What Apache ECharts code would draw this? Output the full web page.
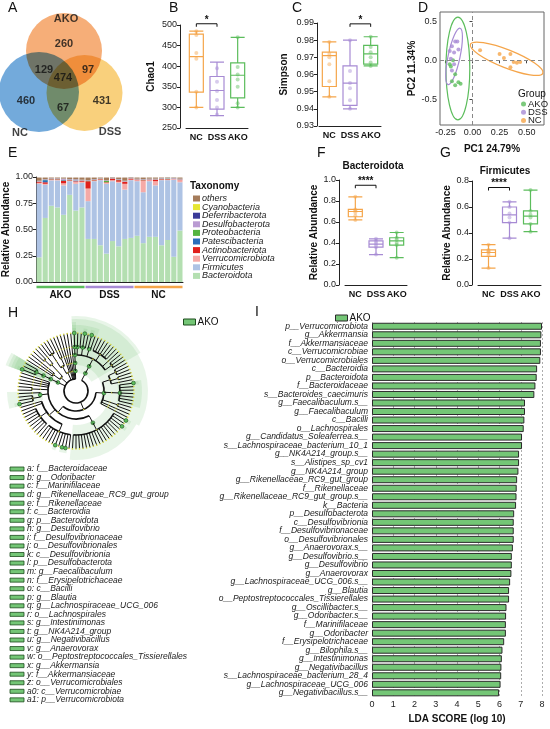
<!DOCTYPE html>
<html>
<head>
<meta charset="UTF-8">
<title></title>
<script src="https://cdn.jsdelivr.net/npm/echarts@6/dist/echarts.min.js"></script>
<style>
html, body { margin: 0; padding: 0; background: #fff; }
#fig { width: 550px; height: 729px; }
</style>
</head>
<body>
<div id="fig"></div>
<script>
// ---- data ----
var groupNames = ['NC', 'DSS', 'AKO'];
var groupColors = ['#f5a54a', '#a78bd4', '#5cbd5c'];

// A: venn
var vennCircles = [[64, 51, 76], [39, 92, 80], [84.5, 93, 76]];   // AKO, NC, DSS (cx, cy, diameter)
var vennColors = ['#f5a060', '#5b9bd5', '#f8c865'];
var vennCounts = [[64, 44, 260], [44, 70, 129], [63, 78, 474], [88, 70, 97], [26, 101, 460], [63, 108, 67], [102, 101, 431]];
var vennNames = [[66, 19], [20, 133], [110, 132]];
var vennLabels = ['AKO', 'NC', 'DSS'];

// B, C, F, G: box plots [min, Q1, median, Q3, max]
var chao1Box = [[300, 337, 423, 478, 485], [280, 296, 341, 375, 410], [300, 323, 378, 408, 470]];
var chao1Points = [[300, 338, 418, 432, 476, 485], [283, 300, 318, 340, 362, 395], [300, 310, 350, 368, 380, 398, 470]];
var simpsonBox = [[0.947, 0.953, 0.971, 0.973, 0.979], [0.940, 0.942, 0.955, 0.965, 0.980], [0.965, 0.966, 0.972, 0.977, 0.982]];
var simpsonPoints = [[0.947, 0.956, 0.966, 0.970, 0.972, 0.979], [0.940, 0.945, 0.952, 0.955, 0.962, 0.980], [0.965, 0.967, 0.970, 0.973, 0.976, 0.982]];
var bacteroidotaBox = [[0.62, 0.65, 0.70, 0.72, 0.84], [0.29, 0.36, 0.39, 0.42, 0.44], [0.26, 0.38, 0.42, 0.45, 0.50]];
var bacteroidotaPoints = [[0.62, 0.66, 0.69, 0.71, 0.72, 0.84], [0.29, 0.36, 0.38, 0.40, 0.42, 0.44], [0.26, 0.38, 0.40, 0.43, 0.45, 0.50]];
var firmicutesBox = [[0.13, 0.22, 0.25, 0.27, 0.31], [0.36, 0.48, 0.54, 0.60, 0.64], [0.41, 0.47, 0.53, 0.57, 0.73]];
var firmicutesPoints = [[0.13, 0.23, 0.25, 0.26, 0.27, 0.31], [0.36, 0.48, 0.52, 0.55, 0.60, 0.64], [0.41, 0.47, 0.52, 0.54, 0.57, 0.73]];
// significance brackets [from, to, y, stars]
var chao1Sig = [0, 1, 503, '*'];
var simpsonSig = [1, 2, 0.9895, '*'];
var bacteroidotaSig = [0, 1, 0.95, '****'];
var firmicutesSig = [0, 1, 0.75, '****'];

// D: PCoA
var pcoaAKO = [[-0.20, -0.08], [-0.16, -0.18], [-0.19, -0.27], [-0.13, -0.28], [-0.16, -0.32], [-0.11, -0.30], [-0.18, 0.0], [-0.21, -0.05]];
var pcoaDSS = [[-0.16, 0.24], [-0.14, 0.24], [-0.19, 0.18], [-0.21, 0.12], [-0.17, 0.10], [-0.13, 0.14], [-0.20, 0.02], [-0.17, -0.05], [-0.19, -0.13]];
var pcoaNC = [[0.07, 0.13], [0.25, 0.08], [0.35, 0.08], [0.29, 0.03], [0.38, -0.02], [0.35, -0.09], [0.41, -0.03], [0.44, -0.02]];
// ellipses [cx, cy, semi-axis x, semi-axis y, rotation deg]
var ellipseAKO = [-0.135, -0.105, 0.11, 0.66, 0];
var ellipseDSS = [-0.17, 0.05, 0.055, 0.37, -12];
var ellipseNC = [0.315, 0.02, 0.36, 0.115, -21.7];
var pcTicksX = [-0.25, 0, 0.25, 0.5];
var pcTicksY = [-0.5, 0, 0.5];

// E: stacked relative abundance, 24 samples
var sampleIds = ['A1','A2','A3','A4','A5','A6','A7','A8','D1','D2','D3','D4','D5','D6','D7','D8','N1','N2','N3','N4','N5','N6','N7','N8'];
var sampleGroups = [[0, 7, 2], [8, 15, 1], [16, 23, 0]];
var taxaNames = ['Bacteroidota', 'Firmicutes', 'Verrucomicrobiota', 'Actinobacteriota', 'Patescibacteria', 'Proteobacteria', 'Desulfobacterota', 'Deferribacterota', 'Cyanobacteria', 'others'];
var taxaColors = ['#b4dfb1', '#aec3e4', '#f5aaa7', '#e0201c', '#2a6ebb', '#55b440', '#b99bd2', '#3b3b98', '#e6e632', '#a57c5b'];
var bacteroidota = [0.235, 0.61, 0.726, 0.71, 0.64, 0.83, 0.68, 0.71, 0.41, 0.41, 0.35, 0.27, 0.39, 0.34, 0.41, 0.42, 0.44, 0.37, 0.43, 0.43, 0.35, 0.40, 0.24, 0.49];
var firmicutes = [0.70, 0.315, 0.242, 0.258, 0.28, 0.13, 0.255, 0.235, 0.36, 0.55, 0.62, 0.665, 0.57, 0.605, 0.47, 0.55, 0.52, 0.485, 0.53, 0.49, 0.62, 0.57, 0.735, 0.46];
var verrucomicrobiota = [0.01, 0.01, 0.005, 0.005, 0.02, 0.005, 0.02, 0.01, 0.12, 0.005, 0.005, 0.01, 0.01, 0.01, 0.055, 0.005, 0.01, 0.11, 0.01, 0.04, 0.005, 0.005, 0.005, 0.02];
var actinobacteriota = [0.01, 0.015, 0.005, 0.005, 0.025, 0.005, 0.005, 0.01, 0.07, 0.005, 0.005, 0.005, 0.015, 0.015, 0.02, 0.01, 0.005, 0.005, 0.005, 0.015, 0.005, 0.005, 0.003, 0.005];
var patescibacteria = [0, 0.02, 0, 0, 0.005, 0, 0.005, 0, 0, 0, 0, 0, 0, 0, 0, 0, 0, 0, 0, 0, 0, 0, 0, 0];
var proteobacteria = [0.002, 0.002, 0.002, 0.002, 0.003, 0.002, 0.002, 0.002, 0.002, 0.002, 0.002, 0.012, 0.002, 0.002, 0.002, 0.002, 0.002, 0.002, 0.002, 0.002, 0.002, 0.006, 0.002, 0.002];
var desulfobacterota = [0.005, 0.005, 0.005, 0.005, 0.01, 0.005, 0.01, 0.005, 0.005, 0.005, 0.003, 0.005, 0.005, 0.005, 0.005, 0.005, 0.005, 0.005, 0.005, 0.005, 0.005, 0.005, 0.005, 0.005];
var deferribacterota = [0.002, 0.002, 0.002, 0.002, 0.002, 0.002, 0.002, 0.002, 0.002, 0.002, 0.002, 0.002, 0.002, 0.002, 0.002, 0.002, 0.002, 0.002, 0.002, 0.002, 0.002, 0.002, 0.002, 0.002];
var cyanobacteria = [0.001, 0.001, 0.001, 0.001, 0.001, 0.001, 0.001, 0.001, 0.001, 0.001, 0.001, 0.001, 0.001, 0.001, 0.001, 0.001, 0.001, 0.001, 0.001, 0.001, 0.001, 0.001, 0.001, 0.001];
var others = [0.03, 0.015, 0.007, 0.007, 0.009, 0.015, 0.015, 0.02, 0.025, 0.015, 0.007, 0.025, 0.003, 0.015, 0.03, 0.003, 0.01, 0.015, 0.01, 0.01, 0.005, 0.003, 0.003, 0.01];
var taxaValues = [bacteroidota, firmicutes, verrucomicrobiota, actinobacteriota, patescibacteria, proteobacteria, desulfobacterota, deferribacterota, cyanobacteria, others];

// H: cladogram lineages (phylum|class|order|family|genera)
var cladeLineages = [
  'Bacteroidota|Bacteroidia|Bacteroidales|Bacteroidaceae|Bacteroides',
  'Bacteroidota|Bacteroidia|Bacteroidales|Rikenellaceae|Alistipes,Rikenellaceae_RC9_gut_group,Rikenella',
  'Bacteroidota|Bacteroidia|Bacteroidales|Marinifilaceae|Odoribacter,Butyricimonas',
  'Bacteroidota|Bacteroidia|Bacteroidales|Muribaculaceae|Muribaculum,Duncaniella,Paramuribaculum,Sodaliphilus,CAG_485,CAG_873,Muribaculaceae_g',
  'Bacteroidota|Bacteroidia|Bacteroidales|Tannerellaceae|Parabacteroides',
  'Bacteroidota|Bacteroidia|Bacteroidales|Prevotellaceae|Alloprevotella,Prevotellaceae_UCG_001,Prevotellaceae_NK3B31_group',
  'Firmicutes|Bacilli|Lactobacillales|Lactobacillaceae|Lactobacillus,Ligilactobacillus,Limosilactobacillus',
  'Firmicutes|Bacilli|Lactobacillales|Streptococcaceae|Streptococcus,Lactococcus',
  'Firmicutes|Bacilli|Lactobacillales|Enterococcaceae|Enterococcus',
  'Firmicutes|Bacilli|Erysipelotrichales|Erysipelotrichaceae|Faecalibaculum,Dubosiella,Turicibacter,Allobaculum,Ileibacterium,Erysipelatoclostridium,Candidatus_Stoquefichus',
  'Firmicutes|Bacilli|Staphylococcales|Staphylococcaceae|Staphylococcus,Jeotgalicoccus',
  'Firmicutes|Bacilli|Bacillales|Bacillaceae|Bacillus',
  'Firmicutes|Bacilli|RF39|RF39_f|RF39_g',
  'Firmicutes|Clostridia|Lachnospirales|Lachnospiraceae|Blautia,Roseburia,Lachnospiraceae_UCG_006,Lachnoclostridium,Dorea,Tuzzerella,Marvinbryantia,Acetatifactor,ASF356,Lachnospiraceae_NK4A136_group,Eubacterium_xylanophilum_group,Lachnospiraceae_UCG_010,Lachnospiraceae_FCS020_group,GCA_900066575,Coprococcus,Anaerostipes,Fusicatenibacter,Lachnospiraceae_A2,Eisenbergiella',
  'Firmicutes|Clostridia|Oscillospirales|Oscillospiraceae|Oscillibacter,Intestinimonas,NK4A214_group,Colidextribacter,Negativibacillus,Flavonifractor,Oscillospiraceae_UCG_005,Oscillospiraceae_UCG_003,UCG_002,UCG_007',
  'Firmicutes|Clostridia|Oscillospirales|Ruminococcaceae|Ruminococcus,Anaerotruncus,Harryflintia,Candidatus_Soleaferrea,Angelakisella,UBA1819,Paludicola,Ruminiclostridium',
  'Firmicutes|Clostridia|Oscillospirales|Butyricicoccaceae|Butyricicoccus',
  'Firmicutes|Clostridia|Oscillospirales|UCG_010|UCG_010_g',
  'Firmicutes|Clostridia|Peptostreptococcales_Tissierellales|Anaerovoraceae|Anaerovorax,Family_XIII_AD3011_group,Family_XIII_UCG_001',
  'Firmicutes|Clostridia|Peptostreptococcales_Tissierellales|Peptostreptococcaceae|Romboutsia',
  'Firmicutes|Clostridia|Clostridiales|Clostridiaceae|Clostridium_sensu_stricto_1,Candidatus_Arthromitus',
  'Firmicutes|Clostridia|Christensenellales|Christensenellaceae|Christensenellaceae_R_7_group',
  'Firmicutes|Clostridia|Clostridia_UCG_014|Clostridia_UCG_014_f|Clostridia_UCG_014_g',
  'Firmicutes|Clostridia|Monoglobales|Monoglobaceae|Monoglobus',
  'Firmicutes|Clostridia|Peptococcales|Peptococcaceae|Peptococcus',
  'Desulfobacterota|Desulfovibrionia|Desulfovibrionales|Desulfovibrionaceae|Desulfovibrio,Bilophila,Mailhella',
  'Actinobacteriota|Actinobacteria|Bifidobacteriales|Bifidobacteriaceae|Bifidobacterium',
  'Actinobacteriota|Actinobacteria|Corynebacteriales|Corynebacteriaceae|Corynebacterium',
  'Actinobacteriota|Actinobacteria|Micrococcales|Micrococcaceae|Rothia',
  'Actinobacteriota|Coriobacteriia|Coriobacteriales|Eggerthellaceae|Enterorhabdus,Adlercreutzia',
  'Actinobacteriota|Coriobacteriia|Coriobacteriales|Atopobiaceae|Coriobacteriaceae_UCG_002',
  'Proteobacteria|Gammaproteobacteria|Enterobacterales|Enterobacteriaceae|Escherichia_Shigella,Klebsiella,Proteus',
  'Proteobacteria|Gammaproteobacteria|Burkholderiales|Sutterellaceae|Parasutterella',
  'Proteobacteria|Gammaproteobacteria|Burkholderiales|Oxalobacteraceae|Massilia',
  'Proteobacteria|Alphaproteobacteria|Rhodospirillales|Rhodospirillales_f|Rhodospirillales_g',
  'Patescibacteria|Saccharimonadia|Saccharimonadales|Saccharimonadaceae|Candidatus_Saccharimonas',
  'Deferribacterota|Deferribacteres|Deferribacterales|Deferribacteraceae|Mucispirillum',
  'Campilobacterota|Campylobacteria|Campylobacterales|Helicobacteraceae|Helicobacter',
  'Cyanobacteria|Vampirivibrionia|Gastranaerophilales|Gastranaerophilales_f|Gastranaerophilales_g',
  'Verrucomicrobiota|Verrucomicrobiae|Verrucomicrobiales|Akkermansiaceae|Akkermansia'
];
var cladeRadius = [12, 20, 28, 36, 44, 58];
var cladeKeys = ['a','b','c','d','e','f','g','h','i','j','k','l','m','n','o','p','q','r','s','t','u','v','w','x','y','z','a0','a1'];
var cladeMarkers = ['f__Bacteroidaceae','g__Odoribacter','f__Marinifilaceae','g__Rikenellaceae_RC9_gut_group','f__Rikenellaceae','c__Bacteroidia','p__Bacteroidota','g__Desulfovibrio','f__Desulfovibrionaceae','o__Desulfovibrionales','c__Desulfovibrionia','p__Desulfobacterota','g__Faecalibaculum','f__Erysipelotrichaceae','c__Bacilli','g__Blautia','g__Lachnospiraceae_UCG_006','o__Lachnospirales','g__Intestinimonas','g__NK4A214_group','g__Negativibacillus','g__Anaerovorax','o__Peptostreptococcales_Tissierellales','g__Akkermansia','f__Akkermansiaceae','o__Verrucomicrobiales','c__Verrucomicrobiae','p__Verrucomicrobiota'];

// I: LDA scores
var ldaTaxa = ['p__Verrucomicrobiota','g__Akkermansia','f__Akkermansiaceae','c__Verrucomicrobiae','o__Verrucomicrobiales','c__Bacteroidia','p__Bacteroidota','f__Bacteroidaceae','s__Bacteroides_caecimuris','g__Faecalibaculum.s__','g__Faecalibaculum','c__Bacilli','o__Lachnospirales','g__Candidatus_Soleaferrea.s__','s__Lachnospiraceae_bacterium_10_1','g__NK4A214_group.s__','s__Alistipes_sp_cv1','g__NK4A214_group','g__Rikenellaceae_RC9_gut_group','f__Rikenellaceae','g__Rikenellaceae_RC9_gut_group.s__','k__Bacteria','p__Desulfobacterota','c__Desulfovibrionia','f__Desulfovibrionaceae','o__Desulfovibrionales','g__Anaerovorax.s__','g__Desulfovibrio.s__','g__Desulfovibrio','g__Anaerovorax','g__Lachnospiraceae_UCG_006.s__','g__Blautia','o__Peptostreptococcales_Tissierellales','g__Oscillibacter.s__','g__Odoribacter.s__','f__Marinifilaceae','g__Odoribacter','f__Erysipelotrichaceae','g__Bilophila.s__','g__Intestinimonas','g__Negativibacillus','s__Lachnospiraceae_bacterium_28_4','g__Lachnospiraceae_UCG_006','g__Negativibacillus.s__'];
var ldaScores = [8.0, 7.97, 7.95, 7.95, 7.92, 7.77, 7.75, 7.69, 7.64, 7.2, 7.2, 7.17, 7.14, 7.06, 7.06, 6.92, 6.92, 6.89, 6.83, 6.81, 6.8, 6.78, 6.69, 6.67, 6.67, 6.67, 6.63, 6.58, 6.58, 6.56, 6.5, 6.45, 6.45, 6.33, 6.31, 6.3, 6.3, 6.22, 6.14, 6.11, 6.09, 6.08, 6.05, 5.98];

var FONT = 'Liberation Sans, Arial, sans-serif';
var barGreen = '#74c676';

// ---- cladogram layout ----
var cladeRoot = { name: 'Bacteria', depth: 0, children: [] };
function childOf(node, name) {
  for (var i = 0; i < node.children.length; i++) {
    if (node.children[i].name === name) return node.children[i];
  }
  var c = { name: name, depth: node.depth + 1, children: [] };
  node.children.push(c);
  return c;
}
cladeLineages.forEach(function (line) {
  var parts = line.split('|');
  var node = cladeRoot;
  parts.slice(0, -1).forEach(function (nm) { node = childOf(node, nm); });
  parts[parts.length - 1].split(',').forEach(function (nm) { childOf(node, nm); });
});
function countLeaves(n) {
  if (!n.children.length) return 1;
  return n.children.reduce(function (s, c) { return s + countLeaves(c); }, 0);
}
var leafTotal = countLeaves(cladeRoot);
var leafStep = 360 / leafTotal;
var leafIdx = 0;
function place(n) {
  if (!n.children.length) {
    n.angle = (leafIdx + 0.5) * leafStep;
    n.lo = n.hi = n.angle;
    leafIdx++;
    return;
  }
  n.children.forEach(place);
  var first = n.children[0], last = n.children[n.children.length - 1];
  n.angle = (first.angle + last.angle) / 2;
  n.lo = first.lo;
  n.hi = last.hi;
}
place(cladeRoot);
var markerSet = {};
cladeMarkers.forEach(function (m) { markerSet[m.slice(3)] = true; });
var cladeNodes = [], cladeSectors = [];
function collect(n, parentR) {
  var r = cladeRadius[n.depth];
  var hl = n.depth > 0 && markerSet[n.name] ? 1 : 0;
  var a0 = n.children.length ? n.children[0].angle : n.angle;
  var a1 = n.children.length ? n.children[n.children.length - 1].angle : n.angle;
  cladeNodes.push([r, n.angle, parentR, a0, a1, hl, n.depth]);
  if (hl) {
    cladeSectors.push([r - 2, 60 + (6 - n.depth) * 3, n.lo - leafStep / 2, n.hi + leafStep / 2]);
  }
  n.children.forEach(function (c) { collect(c, r); });
}
collect(cladeRoot, cladeRadius[0]);

// ---- helpers ----
function boxPanel(gi, box, points, sig) {
  var pts = [];
  points.forEach(function (arr, i) { arr.forEach(function (v) { pts.push([i, v]); }); });
  return [{
    type: 'boxplot', xAxisIndex: gi, yAxisIndex: gi, silent: true, boxWidth: [14, 14],
    data: box.map(function (b, i) {
      return { value: b, itemStyle: { color: 'rgba(255,255,255,0)', borderColor: groupColors[i], borderWidth: 1.2 } };
    })
  }, {
    type: 'scatter', xAxisIndex: gi, yAxisIndex: gi, silent: true, symbolSize: 4, data: pts,
    itemStyle: { color: function (p) { return groupColors[p.value[0]]; }, opacity: 0.45 }
  }, {
    type: 'custom', xAxisIndex: gi, yAxisIndex: gi, silent: true, data: [sig.slice(0, 3)],
    renderItem: function (params, api) {
      var a = api.coord([api.value(0), api.value(2)]);
      var b = api.coord([api.value(1), api.value(2)]);
      return { type: 'group', children: [
        { type: 'polyline', shape: { points: [[a[0], a[1] + 3], [a[0], a[1]], [b[0], b[1]], [b[0], b[1] + 3]] },
          style: { stroke: '#111', lineWidth: 1, fill: null } },
        { type: 'text', x: (a[0] + b[0]) / 2, y: a[1] + 1,
          style: { text: sig[3], font: 'bold 10px ' + FONT, fill: '#111', align: 'center', verticalAlign: 'bottom' } }
      ] };
    }
  }];
}
function catAxis(gi) {
  return {
    gridIndex: gi, type: 'category', data: groupNames,
    axisLine: { lineStyle: { color: '#222', width: 1 } }, axisTick: { show: false },
    axisLabel: { color: '#111', fontWeight: 'bold', fontSize: 9, margin: 5, interval: 0 }
  };
}
function valAxis(gi, min, max, interval, digits, name, gap, offset) {
  return {
    gridIndex: gi, type: 'value', min: min, max: max, interval: interval, offset: offset || 0,
    name: name, nameLocation: 'middle', nameGap: gap,
    nameTextStyle: { color: '#111', fontWeight: 'bold', fontSize: 10 },
    axisLine: { show: true, lineStyle: { color: '#222', width: 1 } },
    axisTick: { show: true, length: 3, lineStyle: { color: '#222' } },
    splitLine: { show: false },
    axisLabel: { color: '#222', fontSize: 9, margin: 3, formatter: function (v) { return v.toFixed(digits); } }
  };
}
function ellipseSeries(name, e, color) {
  return {
    type: 'custom', name: name + '_ell', xAxisIndex: 3, yAxisIndex: 3, silent: true, data: [e],
    renderItem: function (params, api) {
      var c = api.coord([api.value(0), api.value(1)]);
      var s = api.size([api.value(2), api.value(3)]);
      return { type: 'ellipse', x: c[0], y: c[1], rotation: api.value(4) * Math.PI / 180,
        shape: { cx: 0, cy: 0, rx: s[0], ry: s[1] },
        style: { fill: null, stroke: color, lineWidth: 1.2 } };
    }
  };
}

// ---- series ----
var series = [];
// A
series.push({
  type: 'scatter', xAxisIndex: 0, yAxisIndex: 0, silent: true, blendMode: 'multiply',
  data: vennCircles, symbolSize: function (v) { return v[2]; },
  itemStyle: { color: function (p) { return vennColors[p.dataIndex]; }, opacity: 0.85 }
});
series.push({
  type: 'scatter', xAxisIndex: 0, yAxisIndex: 0, silent: true, symbolSize: 0, data: vennCounts,
  label: { show: true, position: 'inside', formatter: function (p) { return p.value[2]; },
    color: '#111', fontWeight: 'bold', fontSize: 11 }
});
series.push({
  type: 'scatter', xAxisIndex: 0, yAxisIndex: 0, silent: true, symbolSize: 0, data: vennNames,
  label: { show: true, position: 'inside', formatter: function (p) { return vennLabels[p.dataIndex]; },
    color: '#111', fontWeight: 'bold', fontSize: 11 }
});
// B, C, F, G
series = series.concat(boxPanel(1, chao1Box, chao1Points, chao1Sig));
series = series.concat(boxPanel(2, simpsonBox, simpsonPoints, simpsonSig));
series = series.concat(boxPanel(5, bacteroidotaBox, bacteroidotaPoints, bacteroidotaSig));
series = series.concat(boxPanel(6, firmicutesBox, firmicutesPoints, firmicutesSig));
// D
series.push({
  type: 'scatter', name: 'AKO', xAxisIndex: 3, yAxisIndex: 3, silent: true, symbolSize: 4,
  data: pcoaAKO, itemStyle: { color: groupColors[2] },
  markLine: { silent: true, symbol: 'none', label: { show: false },
    lineStyle: { color: '#888', type: [4, 3], width: 1 }, data: [{ xAxis: 0 }, { yAxis: 0 }] }
});
series.push({ type: 'scatter', name: 'DSS', xAxisIndex: 3, yAxisIndex: 3, silent: true, symbolSize: 4, data: pcoaDSS, itemStyle: { color: groupColors[1] } });
series.push({ type: 'scatter', name: 'NC', xAxisIndex: 3, yAxisIndex: 3, silent: true, symbolSize: 4, data: pcoaNC, itemStyle: { color: groupColors[0] } });
series.push(ellipseSeries('AKO', ellipseAKO, groupColors[2]));
series.push(ellipseSeries('DSS', ellipseDSS, groupColors[1]));
series.push(ellipseSeries('NC', ellipseNC, groupColors[0]));
// E
taxaNames.forEach(function (t, i) {
  series.push({
    type: 'bar', name: t, xAxisIndex: 4, yAxisIndex: 4, stack: 'tax', silent: true,
    barCategoryGap: '16%', data: taxaValues[i], itemStyle: { color: taxaColors[i] }
  });
});
series.push({
  type: 'custom', xAxisIndex: 4, yAxisIndex: 4, silent: true, data: sampleGroups,
  renderItem: function (params, api) {
    var a = api.coord([api.value(0), 0]);
    var b = api.coord([api.value(1), 0]);
    var half = api.size([1, 0])[0] * 0.42;
    var gi = api.value(2);
    return { type: 'group', children: [
      { type: 'line', shape: { x1: a[0] - half, y1: a[1] + 5, x2: b[0] + half, y2: b[1] + 5 },
        style: { stroke: groupColors[gi], lineWidth: 2.5 } },
      { type: 'text', x: (a[0] + b[0]) / 2, y: a[1] + 8,
        style: { text: groupNames[gi], font: 'bold 10px ' + FONT, fill: '#111', align: 'center', verticalAlign: 'top' } }
    ] };
  }
});
// H
series.push({
  type: 'custom', name: 'AKO_clade', coordinateSystem: 'polar', polarIndex: 0, silent: true, z: 1,
  itemStyle: { color: barGreen }, data: cladeSectors,
  renderItem: function (params, api) {
    var cs = params.coordSys;
    var p0 = api.coord([api.value(1), api.value(2)]);
    var p1 = api.coord([api.value(1), api.value(3)]);
    var q0 = api.coord([api.value(0), api.value(2)]);
    return { type: 'sector', shape: {
        cx: cs.cx, cy: cs.cy,
        r0: Math.hypot(q0[0] - cs.cx, q0[1] - cs.cy), r: Math.hypot(p0[0] - cs.cx, p0[1] - cs.cy),
        startAngle: Math.atan2(p0[1] - cs.cy, p0[0] - cs.cx), endAngle: Math.atan2(p1[1] - cs.cy, p1[0] - cs.cx),
        clockwise: true },
      style: { fill: 'rgba(110,195,110,0.16)' } };
  }
});
series.push({
  type: 'custom', coordinateSystem: 'polar', polarIndex: 0, silent: true, z: 3, data: cladeNodes,
  renderItem: function (params, api) {
    var cs = params.coordSys;
    var r = api.value(0), ang = api.value(1), rp = api.value(2), a0 = api.value(3), a1 = api.value(4), hl = api.value(5);
    var depth = api.value(6);
    var p = api.coord([r, ang]);
    var q = api.coord([rp, ang]);
    var kids = [];
    if (depth > 0) {
      kids.push({ type: 'line', shape: { x1: q[0], y1: q[1], x2: p[0], y2: p[1] }, style: { stroke: '#111', lineWidth: 1 } });
    }
    if (a1 > a0) {
      var s = api.coord([r, a0]), e = api.coord([r, a1]);
      kids.push({ type: 'arc', shape: { cx: cs.cx, cy: cs.cy, r: Math.hypot(s[0] - cs.cx, s[1] - cs.cy),
          startAngle: Math.atan2(s[1] - cs.cy, s[0] - cs.cx), endAngle: Math.atan2(e[1] - cs.cy, e[0] - cs.cx), clockwise: true },
        style: { stroke: '#111', lineWidth: 1.6, fill: null } });
    }
    if (depth > 0) {
      kids.push({ type: 'circle', shape: { cx: p[0], cy: p[1], r: hl ? 1.9 : 0.8 },
        style: { fill: hl ? '#5cbd5c' : '#d8d840', stroke: hl ? '#1d4d1d' : null, lineWidth: 0.6 } });
    }
    return { type: 'group', children: kids };
  }
});
// I
series.push({
  type: 'bar', name: 'AKO_lda', xAxisIndex: 7, yAxisIndex: 7, silent: true, barWidth: 7,
  data: ldaScores, itemStyle: { color: barGreen, borderColor: '#2b2b2b', borderWidth: 1 }
});

// ---- graphic: panel letters, titles, H key ----
var graphics = [];
[['A', 8, 8], ['B', 169, 8], ['C', 292, 8], ['D', 418, 8], ['E', 8, 153], ['F', 317, 153], ['G', 440, 153], ['H', 8, 313], ['I', 255, 312]].forEach(function (l) {
  graphics.push({ type: 'text', x: l[1], y: l[2], style: { text: l[0], font: '14px ' + FONT, fill: '#111', verticalAlign: 'middle' } });
});
graphics.push({ type: 'text', x: 190, y: 186, style: { text: 'Taxonomy', font: 'bold 10px ' + FONT, fill: '#111', verticalAlign: 'middle' } });
graphics.push({ type: 'text', x: 518, y: 94, style: { text: 'Group', font: '10px ' + FONT, fill: '#111', verticalAlign: 'middle' } });
graphics.push({ type: 'text', x: 373, y: 166, style: { text: 'Bacteroidota', font: 'bold 10px ' + FONT, fill: '#111', align: 'center', verticalAlign: 'middle' } });
graphics.push({ type: 'text', x: 505, y: 171, style: { text: 'Firmicutes', font: 'bold 10px ' + FONT, fill: '#111', align: 'center', verticalAlign: 'middle' } });
cladeMarkers.forEach(function (m, i) {
  var y = 469 + i * 8.55;
  graphics.push({ type: 'rect', shape: { x: 10, y: y - 2, width: 14, height: 4 }, style: { fill: barGreen, stroke: '#1d4d1d', lineWidth: 0.8 } });
  graphics.push({ type: 'text', x: 27, y: y, style: { text: cladeKeys[i] + ': ' + m, font: 'italic 8.5px ' + FONT, fill: '#222', verticalAlign: 'middle' } });
});

var option = {
  animation: false,
  backgroundColor: '#fff',
  textStyle: { fontFamily: FONT },
  graphic: graphics,
  grid: [
    { left: 0, top: 0, width: 130, height: 140 },
    { left: 186, top: 25, width: 62, height: 103 },
    { left: 319, top: 23, width: 62, height: 103 },
    { left: 440, top: 12, width: 104, height: 113, show: true, borderColor: '#666', borderWidth: 1 },
    { left: 36, top: 177, width: 147, height: 105 },
    { left: 345, top: 180, width: 62, height: 105 },
    { left: 478, top: 181, width: 63, height: 104 },
    { left: 372, top: 322, width: 170, height: 381 }
  ],
  polar: { center: [76, 391], radius: 100 },
  angleAxis: { type: 'value', min: 0, max: 360, show: false },
  radiusAxis: { type: 'value', min: 0, max: 100, show: false },
  xAxis: [
    { gridIndex: 0, type: 'value', min: 0, max: 130, show: false },
    catAxis(1),
    catAxis(2),
    { gridIndex: 3, type: 'value', min: -0.3, max: 0.66, name: 'PC1 24.79%', nameLocation: 'middle', nameGap: 19,
      nameTextStyle: { color: '#111', fontWeight: 'bold', fontSize: 10 },
      axisLine: { show: false }, splitLine: { show: false },
      axisTick: { show: true, length: 3, customValues: pcTicksX, lineStyle: { color: '#444' } },
      axisLabel: { color: '#222', fontSize: 9, margin: 3, customValues: pcTicksX, formatter: function (v) { return v.toFixed(2); } } },
    { gridIndex: 4, type: 'category', data: sampleIds, axisLabel: { show: false }, axisTick: { show: false },
      axisLine: { lineStyle: { color: '#222' } } },
    catAxis(5),
    catAxis(6),
    { gridIndex: 7, type: 'value', min: 0, max: 8, interval: 1,
      name: 'LDA SCORE (log 10)', nameLocation: 'middle', nameGap: 15,
      nameTextStyle: { color: '#111', fontWeight: 'bold', fontSize: 10 },
      axisLine: { lineStyle: { color: '#222' } }, axisTick: { length: 3, lineStyle: { color: '#222' } },
      axisLabel: { color: '#222', fontSize: 9, margin: 3 },
      splitLine: { show: true, lineStyle: { color: '#999', type: [2, 2], width: 0.8 } } }
  ],
  yAxis: [
    { gridIndex: 0, type: 'value', min: 0, max: 140, inverse: true, show: false },
    valAxis(1, 250, 500, 50, 0, 'Chao1', 24, 6),
    valAxis(2, 0.93, 0.99, 0.01, 2, 'Simpson', 28, 2),
    { gridIndex: 3, type: 'value', min: -0.83, max: 0.62, name: 'PC2 11.34%', nameLocation: 'middle', nameGap: 21,
      nameTextStyle: { color: '#111', fontWeight: 'bold', fontSize: 10 },
      axisLine: { show: false }, splitLine: { show: false },
      axisTick: { show: true, length: 3, customValues: pcTicksY, lineStyle: { color: '#444' } },
      axisLabel: { color: '#222', fontSize: 9, margin: 3, customValues: pcTicksY, formatter: function (v) { return v.toFixed(1); } } },
    valAxis(4, 0, 1, 0.25, 2, 'Relative Abundance', 25, 0),
    valAxis(5, 0, 1, 0.2, 1, 'Relative Abundance', 20, 6),
    valAxis(6, 0, 0.8, 0.2, 1, 'Relative Abundance', 20, 6),
    { gridIndex: 7, type: 'category', data: ldaTaxa, inverse: true,
      axisLine: { show: false }, axisTick: { show: false },
      axisLabel: { color: '#222', fontSize: 8.5, fontStyle: 'italic', margin: 4, interval: 0 } }
  ],
  legend: [
    { data: ['AKO', 'DSS', 'NC'], left: 516, top: 94, orient: 'vertical', icon: 'circle', selectedMode: false,
      itemWidth: 5, itemHeight: 5, itemGap: -1.8, textStyle: { fontSize: 9.5, color: '#222', lineHeight: 8, padding: [0, 0, 0, -3] } },
    { data: taxaNames.slice().reverse(), left: 188, top: 189, orient: 'vertical', icon: 'rect', selectedMode: false,
      itemWidth: 7, itemHeight: 6, itemGap: -0.4, textStyle: { fontSize: 9, fontStyle: 'italic', color: '#222', lineHeight: 8, padding: [0, 0, 0, -3] } },
    { data: [{ name: 'AKO_clade', itemStyle: { color: barGreen, borderColor: '#1d4d1d', borderWidth: 1 } }],
      left: 178, top: 312, icon: 'rect', selectedMode: false, itemWidth: 12, itemHeight: 6,
      formatter: function () { return 'AKO'; }, textStyle: { fontSize: 10, color: '#111', padding: [0, 0, 0, -3] } },
    { data: [{ name: 'AKO_lda', itemStyle: { color: barGreen, borderColor: '#2b2b2b', borderWidth: 1 } }],
      left: 330, top: 308, icon: 'rect', selectedMode: false, itemWidth: 12, itemHeight: 6,
      formatter: function () { return 'AKO'; }, textStyle: { fontSize: 10, color: '#111', padding: [0, 0, 0, -3] } }
  ],
  series: series
};

var fig = echarts.init(document.getElementById('fig'));
fig.setOption(option);
</script>
</body>
</html>
